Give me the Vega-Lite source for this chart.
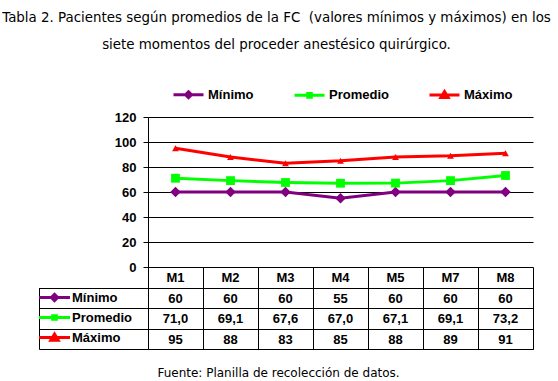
{
  "$schema": "https://vega.github.io/schema/vega-lite/v6.json",
  "background": "white",
  "padding": {"left": 2, "top": 11, "right": 0, "bottom": 0},
  "title": {
    "text": ["Tabla 2. Pacientes según promedios de la FC\u00a0 (valores mínimos y máximos) en los", "siete momentos del proceder anestésico quirúrgico."],
    "font": "DejaVu Sans", "fontSize": 13.4, "fontWeight": "normal", "color": "black",
    "lineHeight": 27, "anchor": "middle", "frame": "group", "dx": -64, "offset": 26.5
  },
  "datasets": {
    "d": [
      {"M": "M1", "serie": "Mínimo", "value": 60},
      {"M": "M2", "serie": "Mínimo", "value": 60},
      {"M": "M3", "serie": "Mínimo", "value": 60},
      {"M": "M4", "serie": "Mínimo", "value": 55},
      {"M": "M5", "serie": "Mínimo", "value": 60},
      {"M": "M7", "serie": "Mínimo", "value": 60},
      {"M": "M8", "serie": "Mínimo", "value": 60},
      {"M": "M1", "serie": "Promedio", "value": 71.0},
      {"M": "M2", "serie": "Promedio", "value": 69.1},
      {"M": "M3", "serie": "Promedio", "value": 67.6},
      {"M": "M4", "serie": "Promedio", "value": 67.0},
      {"M": "M5", "serie": "Promedio", "value": 67.1},
      {"M": "M7", "serie": "Promedio", "value": 69.1},
      {"M": "M8", "serie": "Promedio", "value": 73.2},
      {"M": "M1", "serie": "Máximo", "value": 95},
      {"M": "M2", "serie": "Máximo", "value": 88},
      {"M": "M3", "serie": "Máximo", "value": 83},
      {"M": "M4", "serie": "Máximo", "value": 85},
      {"M": "M5", "serie": "Máximo", "value": 88},
      {"M": "M7", "serie": "Máximo", "value": 89},
      {"M": "M8", "serie": "Máximo", "value": 91}
    ]
  },
  "spacing": 0,
  "bounds": "flush",
  "resolve": {"scale": {"color": "independent", "x": "independent", "y": "independent"}, "legend": {"color": "independent"}},
  "vconcat": [
    {
      "width": 385,
      "height": 150,
      "data": {"name": "d"},
      "encoding": {
        "x": {"field": "M", "type": "ordinal", "scale": {"type": "point", "padding": 0.5, "domain": ["M1", "M2", "M3", "M4", "M5", "M7", "M8"]}, "axis": null},
        "y": {"field": "value", "type": "quantitative", "scale": {"domain": [0, 120], "nice": false},
          "axis": {"values": [0, 20, 40, 60, 80, 100, 120], "title": null, "grid": true, "gridColor": "black", "gridOpacity": 1, "gridWidth": 1,
            "domainColor": "black", "domainWidth": 1, "tickColor": "black", "tickSize": 5, "tickWidth": 1,
            "labelFont": "Liberation Sans", "labelFontSize": 13, "labelFontWeight": "bold", "labelColor": "black", "labelPadding": 7}},
        "color": {"field": "serie", "type": "nominal",
          "scale": {"domain": ["Mínimo", "Promedio", "Máximo"], "range": ["#800080", "#00ff00", "#ff0000"]},
          "legend": {"title": null, "orient": "none", "direction": "horizontal", "legendX": 24, "legendY": -39,
            "symbolType": {"expr": "datum.value === 'Mínimo' ? 'M-1,0H1M0,-0.2L0.2,0L0,0.2L-0.2,0Z' : datum.value === 'Promedio' ? 'M-1,0H1M-0.12,-0.12H0.12V0.12H-0.12Z' : 'M-1,0H1M0,-0.22L0.24,0.18L-0.24,0.18Z'"},
            "symbolFillColor": {"expr": "datum.value === 'Mínimo' ? '#800080' : datum.value === 'Promedio' ? '#00ff00' : '#ff0000'"},
            "symbolStrokeColor": {"expr": "datum.value === 'Mínimo' ? '#800080' : datum.value === 'Promedio' ? '#00ff00' : '#ff0000'"},
            "symbolSize": 900, "symbolStrokeWidth": 3, "symbolOpacity": 1,
            "labelFont": "Liberation Sans", "labelFontSize": 13, "labelFontWeight": "bold", "labelColor": "black", "labelOffset": 3, "columnPadding": 34}}
      },
      "layer": [
        {"mark": {"type": "line", "strokeWidth": 3}},
        {"mark": {"type": "point", "filled": true, "opacity": 1},
          "encoding": {
            "shape": {"field": "serie", "type": "nominal", "scale": {"domain": ["Mínimo", "Promedio", "Máximo"], "range": ["diamond", "square", "triangle-up"]}, "legend": null},
            "size": {"field": "serie", "type": "nominal", "scale": {"domain": ["Mínimo", "Promedio", "Máximo"], "range": [110, 45, 160]}, "legend": null}
          }}
      ]
    },
    {
      "width": 385,
      "height": 82,
      "data": {"name": "d"},
      "encoding": {
        "x": {"field": "M", "type": "ordinal", "scale": {"type": "band", "paddingInner": 0, "paddingOuter": 0, "domain": ["M1", "M2", "M3", "M4", "M5", "M7", "M8"]},
          "axis": {"orient": "bottom", "tickBand": "extent", "grid": true, "gridColor": "black", "gridOpacity": 1, "gridWidth": 1,
            "ticks": false, "labels": false, "domain": true, "domainColor": "black",
            "title": "Fuente: Planilla de recolección de datos.", "titleFont": "DejaVu Sans", "titleFontSize": 12, "titleFontWeight": "normal", "titleColor": "black",
            "titleX": 130, "titleAlign": "center", "titlePadding": 18}}
      },
      "layer": [
        {"mark": {"type": "point", "filled": true, "opacity": 0},
          "encoding": {
            "y": {"field": "serie", "type": "nominal", "scale": {"type": "band", "paddingInner": 0, "paddingOuter": 0, "domain": ["M", "Mínimo", "Promedio", "Máximo"]},
              "axis": {"values": ["Mínimo", "Promedio", "Máximo"], "tickBand": "extent", "offset": 109, "tickSize": -109, "tickColor": "black", "tickWidth": 1,
                "labels": false, "domain": true, "domainColor": "black", "domainDash": [0, 20.5, 62],
                "grid": true, "gridColor": "black", "gridOpacity": 1, "gridWidth": 1, "title": null}},
            "color": {"field": "serie", "type": "nominal",
              "scale": {"domain": ["Mínimo", "Promedio", "Máximo"], "range": ["#800080", "#00ff00", "#ff0000"]},
              "legend": {"title": null, "orient": "none", "direction": "vertical", "legendX": -100, "legendY": 24,
                "symbolType": {"expr": "datum.value === 'Mínimo' ? 'M-3.1,0H3.1M0,-0.62L0.62,0L0,0.62L-0.62,0Z' : datum.value === 'Promedio' ? 'M-3.1,0H3.1M-0.37,-0.37H0.37V0.37H-0.37Z' : 'M-3.1,0H3.1M0,-0.68L0.74,0.56L-0.74,0.56Z'"},
                "symbolFillColor": {"expr": "datum.value === 'Mínimo' ? '#800080' : datum.value === 'Promedio' ? '#00ff00' : '#ff0000'"},
                "symbolStrokeColor": {"expr": "datum.value === 'Mínimo' ? '#800080' : datum.value === 'Promedio' ? '#00ff00' : '#ff0000'"},
                "symbolSize": 100, "symbolStrokeWidth": 3, "symbolOpacity": 1, "rowPadding": 2,
                "labelFont": "Liberation Sans", "labelFontSize": 13, "labelFontWeight": "bold", "labelColor": "black", "labelOffset": 11}}
          }},
        {"transform": [{"filter": "datum.serie !== 'Promedio'"}],
          "mark": {"type": "text", "font": "Liberation Sans", "fontSize": 13, "fontWeight": "bold", "color": "black", "dy": 1},
          "encoding": {
            "y": {"field": "serie", "type": "nominal"},
            "text": {"field": "value", "type": "quantitative", "format": "d"}
          }},
        {"transform": [{"filter": "datum.serie === 'Promedio'"}],
          "mark": {"type": "text", "font": "Liberation Sans", "fontSize": 13, "fontWeight": "bold", "color": "black", "dy": 1},
          "encoding": {
            "y": {"field": "serie", "type": "nominal"},
            "text": {"field": "value", "type": "quantitative", "format": ".1f"}
          }},
        {"transform": [{"filter": "datum.serie === 'Mínimo'"}],
          "mark": {"type": "text", "font": "Liberation Sans", "fontSize": 13, "fontWeight": "bold", "color": "black", "dy": 1},
          "encoding": {
            "y": {"datum": "M", "type": "nominal"},
            "text": {"field": "M", "type": "nominal"}
          }}
      ]
    }
  ],
  "config": {
    "view": {"stroke": null},
    "locale": {"number": {"decimal": ",", "thousands": ".", "grouping": [3], "currency": ["", ""]}}
  }
}
